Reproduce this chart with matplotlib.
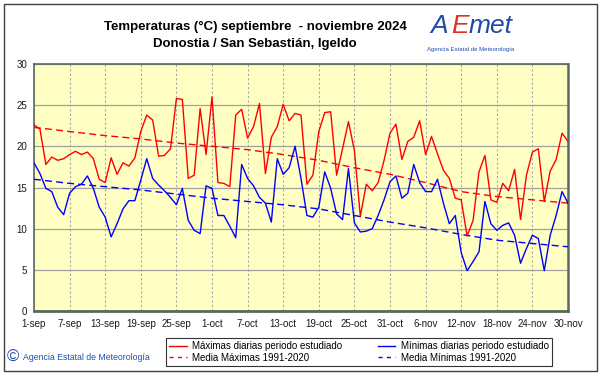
"""Temperaturas diarias septiembre-noviembre 2024, Donostia / San Sebastián, Igeldo."""

import matplotlib

matplotlib.use("Agg")
import matplotlib.pyplot as plt
from matplotlib.lines import Line2D
from matplotlib.patches import Rectangle

# days counted from 1-sep (0) to 30-nov (90)
tmax = [22.6, 22.1, 17.8, 18.7, 18.3, 18.5, 19.0, 19.4, 19.0, 19.3,
        18.5, 16.0, 15.6, 18.6, 16.6, 18.0, 17.6, 18.6, 21.8, 23.8,
        23.2, 18.8, 18.9, 19.7, 25.8, 25.7, 16.1, 16.5, 24.6, 19.0,
        26.0, 15.6, 15.5, 15.1, 23.8, 24.5, 21.0, 22.4, 25.2, 16.7,
        21.1, 22.4, 25.1, 23.1, 24.0, 23.8, 15.4, 16.5, 21.8, 24.1,
        24.2, 16.5, 19.7, 23.0, 19.5, 11.5, 15.4, 14.6, 15.6, 18.3,
        21.6, 22.7, 18.4, 20.6, 21.1, 23.1, 19.0, 21.2, 19.1, 17.1,
        16.1, 13.7, 13.5, 9.1, 11.0, 16.9, 18.9, 13.5, 13.2, 15.5,
        14.6, 17.2, 11.1, 16.5, 19.3, 19.7, 13.3, 17.0, 18.4, 21.6,
        20.6]
tmin = [18.0, 16.7, 14.9, 14.5, 12.6, 11.7, 14.3, 15.1, 15.4, 16.4,
        14.9, 12.6, 11.4, 9.0, 10.6, 12.4, 13.4, 13.4, 15.9, 18.5,
        16.1, 15.3, 14.6, 13.8, 12.9, 14.9, 11.0, 9.8, 9.4, 15.2,
        14.9, 11.6, 11.6, 10.3, 8.9, 17.8, 16.1, 15.2, 13.8, 13.1,
        10.8, 18.5, 16.6, 17.4, 20.0, 16.1, 11.6, 11.4, 12.6, 16.9,
        14.9, 11.8, 11.1, 17.3, 10.7, 9.6, 9.7, 10.0, 11.6, 13.5,
        15.7, 16.4, 13.7, 14.3, 17.8, 15.6, 14.5, 14.5, 16.0, 13.1,
        10.6, 11.6, 7.1, 4.9, 6.0, 7.2, 13.3, 10.6, 9.8, 10.4,
        10.7, 9.2, 5.8, 7.6, 9.2, 8.8, 4.9, 9.2, 11.6, 14.5,
        13.1]

# 1991-2020 normals, read at the tick days
tick_days = [0, 6, 12, 18, 24, 30, 36, 42, 48, 54, 60, 66, 72, 78, 84, 90]
tick_labels = ["1-sep", "7-sep", "13-sep", "19-sep", "25-sep", "1-oct",
               "7-oct", "13-oct", "19-oct", "25-oct", "31-oct", "6-nov",
               "12-nov", "18-nov", "24-nov", "30-nov"]
norm_max = [22.3, 21.8, 21.3, 20.9, 20.4, 20.0, 19.6, 19.0, 18.3, 17.4,
            16.6, 15.6, 14.5, 13.9, 13.5, 13.1]
norm_min = [16.0, 15.5, 15.1, 14.7, 14.2, 13.7, 13.3, 12.9, 12.4, 11.6,
            10.8, 10.1, 9.3, 8.6, 8.2, 7.8]

plt.rcParams["font.family"] = ["Liberation Sans", "DejaVu Sans"]

RED = "#ff0000"
BLUE = "#0000ff"

fig = plt.figure(figsize=(6.01, 3.74), dpi=100)
ax = fig.add_axes([34 / 601, 63 / 374, 534 / 601, 247 / 374])
ax.set_facecolor("#ffffc4")

days = range(len(tmax))
ax.plot(days, tmax, color=RED, lw=1.0, zorder=4)
ax.plot(days, tmin, color=BLUE, lw=1.0, zorder=4)
ax.plot(tick_days, norm_max, color=RED, lw=1.0, ls=(0, (5, 3)), zorder=3)
ax.plot(tick_days, norm_min, color=BLUE, lw=1.0, ls=(0, (5, 3)), zorder=3)

ax.set_xlim(0, 90)
ax.set_ylim(0, 30)
ax.set_xticks(tick_days)
ax.set_xticklabels(tick_labels)
ax.set_yticks(range(0, 31, 5))
ax.tick_params(length=0, labelsize=7, colors="#1a1a1a", pad=6)
ax.tick_params(axis="y", pad=5)
ax.grid(axis="x", color="#a8a8a8", lw=0.8, ls=(0, (2, 2)))
ax.grid(axis="y", color="#a0a0a0", lw=0.9)
ax.set_axisbelow(True)
for side in ax.spines.values():
    side.set_color("#5a6a5a")
    side.set_linewidth(1.2)
ax.spines["bottom"].set_linewidth(2.0)
ax.spines["right"].set_linewidth(1.8)

# titles
fig.text(255 / 601, 1 - 27 / 374, "Temperaturas (°C) septiembre  - noviembre 2024",
         ha="center", va="center", fontsize=9.5, fontweight="bold")
fig.text(255 / 601, 1 - 44 / 374, "Donostia / San Sebastián, Igeldo",
         ha="center", va="center", fontsize=9.5, fontweight="bold")

# logo
fig.text(430 / 601, 1 - 26 / 374, "A", color="#1f4aa8", fontsize=19,
         style="italic", ha="left", va="center")
fig.text(451 / 601, 1 - 26 / 374, "E", color="#e03020", fontsize=19,
         style="italic", ha="left", va="center")
fig.text(469 / 601, 1 - 26 / 374, "met", color="#1f4aa8", fontsize=19,
         style="italic", ha="left", va="center")
fig.text(471 / 601, 1 - 49 / 374, "Agencia Estatal de Meteorología",
         color="#1f4aa8", fontsize=4.3, ha="center", va="center")

# copyright
fig.text(7 / 601, 1 - 357 / 374, "©", color="#2050b0", fontsize=12,
         ha="left", va="center")
fig.text(23 / 601, 1 - 357 / 374, "Agencia Estatal de Meteorología",
         color="#2050b0", fontsize=6.3, ha="left", va="center")

# legend
handles = [
    Line2D([], [], color=RED, lw=1.0),
    Line2D([], [], color=RED, lw=1.0, ls=(0, (3, 3))),
    Line2D([], [], color=BLUE, lw=1.0),
    Line2D([], [], color=BLUE, lw=1.0, ls=(0, (3, 3))),
]
names = ["Máximas diarias periodo estudiado", "Media Máximas 1991-2020",
         "Mínimas diarias periodo estudiado", "Media Mínimas 1991-2020"]
leg = fig.legend(handles, names, ncol=2, loc="center",
                 bbox_to_anchor=(359 / 601, 1 - 352 / 374),
                 fontsize=7, frameon=True, fancybox=False,
                 handlelength=1.8, handletextpad=0.6, columnspacing=3.6,
                 labelspacing=0.15, borderpad=0.35)
leg.get_frame().set_edgecolor("black")
leg.get_frame().set_linewidth(0.8)

# outer frame
fig.patches.append(Rectangle((4 / 601, 3 / 374), 593 / 601, 367 / 374,
                             transform=fig.transFigure, fill=False,
                             edgecolor="#404040", lw=1.0))

fig.savefig("out.png", dpi=100)
